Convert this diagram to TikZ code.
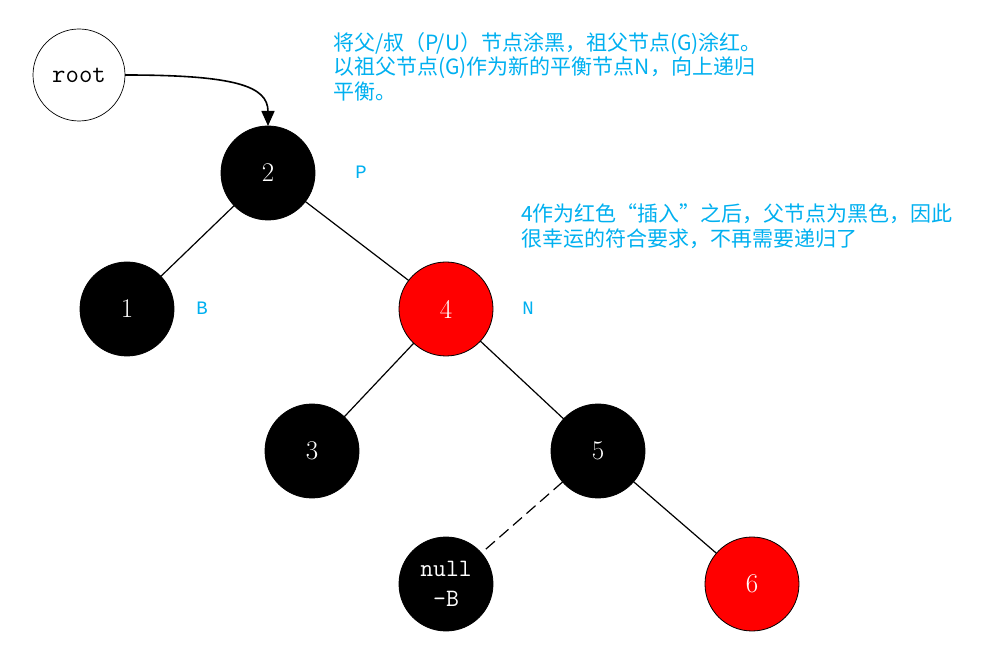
\documentclass[tikz,border=0pt]{standalone}
\usepackage{fontspec}
\newfontfamily\cjk{Noto Sans CJK SC}
\newfontfamily\monof{Liberation Mono}
\usetikzlibrary{arrows.meta}
\definecolor{skyb}{RGB}{0,176,240}
\definecolor{nodered}{RGB}{255,0,0}
\begin{document}
\begin{tikzpicture}[x=1pt,y=-1pt,
  tnode/.style={circle,draw=black,line width=0.8pt,minimum size=94pt,inner sep=0pt,outer sep=0pt,fill=black,text=white,font=\fontsize{27}{30}\selectfont},
  rnode/.style={tnode,fill=nodered},
  rootnode/.style={circle,draw=black,line width=0.7pt,minimum size=92pt,inner sep=0pt,outer sep=0pt,fill=white,font=\ttfamily\fontsize{26}{28}\selectfont},
  lab/.style={text=skyb,font=\monof\fontsize{19}{20}\selectfont,inner sep=0pt},
  note/.style={text=skyb,font=\cjk\fontsize{21}{24.5}\selectfont,align=left,anchor=north west,inner sep=0pt},
  edge/.style={line width=1.2pt}]
\useasboundingbox[fill=white] (0,0) rectangle (989,668);

\node[rootnode] (root) at (79,75) {root};
\node[tnode] (n2) at (268,173) {2};
\node[tnode] (n1) at (127,309) {1};
\node[rnode] (n4) at (446,309) {4};
\node[tnode] (n3) at (312,451) {3};
\node[tnode] (n5) at (598,451) {5};
\node[tnode,align=center,font=\ttfamily\fontsize{25}{30}\selectfont] (nb) at (446,584) {null\\-B};
\node[rnode] (n6) at (752,584) {6};

\node[lab] (lp) at (361,172) {P};
\node[lab] (lb) at (202,308) {B};
\node[lab] (ln) at (528,308) {N};

\node[note] (t1) at (333,32) {将父/叔（P/U）节点涂黑，祖父节点(G)涂红。\\以祖父节点(G)作为新的平衡节点N，向上递归\\平衡。};
\node[note] (t2) at (521,204) {4作为红色“插入”之后，父节点为黑色，因此\\很幸运的符合要求，不再需要递归了};

\draw[edge] (n2) -- (n1);
\draw[edge] (n2) -- (n4);
\draw[edge] (n4) -- (n3);
\draw[edge] (n4) -- (n5);
\draw[edge] (n5) -- (n6);
\draw[edge,dash pattern=on 12pt off 6pt] (n5) -- (nb);
\draw[line width=1.6pt,-{Triangle[length=15pt,width=13pt]}] (root.east) .. controls +(110,0) and +(0,-40) .. (n2.north);
\end{tikzpicture}
\end{document}
